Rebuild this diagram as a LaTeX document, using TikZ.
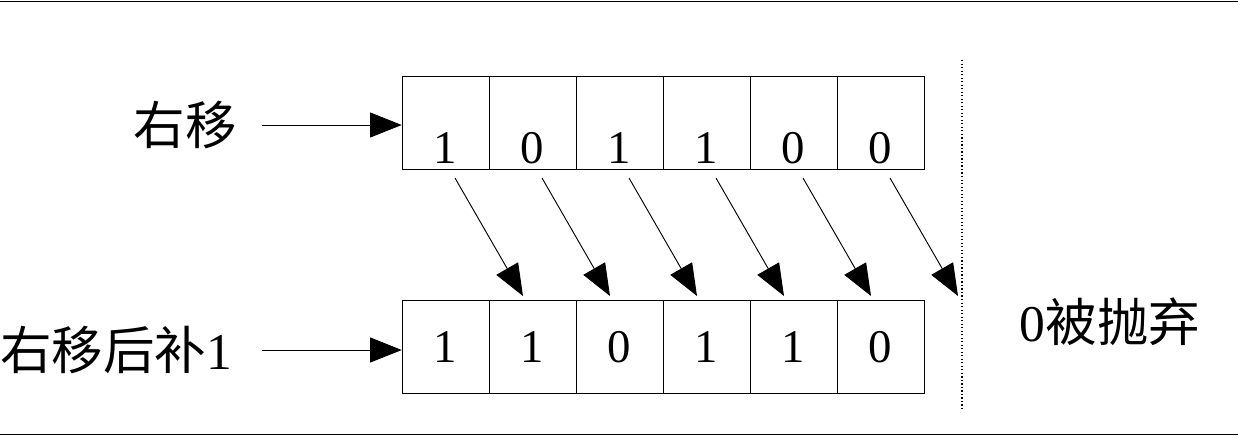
\documentclass[tikz,border=0pt]{standalone}
\usepackage{fontspec}
\setmainfont{Liberation Serif}
\newfontfamily\cjk{Noto Sans CJK SC}
\usetikzlibrary{arrows.meta,positioning}
\tikzset{
  cell/.style={draw, minimum width=2.61cm, minimum height=2.79cm, inner sep=0pt},
  digit/.style={font=\fontsize{40}{40}\selectfont},
  lbl/.style={font=\cjk\fontsize{44}{44}\selectfont, inner sep=0pt},
  bigarrow/.style={-{Triangle[length=0.95cm,width=0.75cm]}, line width=0.8pt}
}
\newcommand{\rmdigit}[1]{{\rmfamily\fontsize{44}{44}\selectfont #1}}
\begin{document}
\begin{tikzpicture}[x=0.03cm,y=-0.03cm]
    \useasboundingbox (0,0) rectangle (1238,437);
    % Randlinien
    \draw[line width=0.8pt] (0,1) -- (1238,1);
    \draw[line width=0.8pt] (0,434) -- (1238,434);

    % Zellen oben und unten
    \foreach \i/\a/\b in {1/1/1,2/0/1,3/1/0,4/1/1,5/0/1,6/0/0} {
        \node[cell] (t\i) at ({402+87*(\i-0.5)},123) {};
        \node[cell] (b\i) at ({402+87*(\i-0.5)},347) {};
        \node[digit] at ([yshift=-0.75cm]t\i.center) {\a};
        \node[digit] at (b\i.center) {\b};
    }

    % Beschriftung links
    \node[lbl] (rs) at (185,125) {右移};
    \node[lbl, anchor=west] (rsf) at (0,350) {右移后补\rmdigit{1}};
    \draw[bigarrow] (262,125) -- (t1.west |- 0,125);
    \draw[bigarrow] (262,350) -- (b1.west |- 0,350);

    % Verschiebungspfeile
    \foreach \i in {1,...,6} {
        \coordinate (s\i) at ({455+87*(\i-1)},178);
        \coordinate (e\i) at ({523+87*(\i-1)},296);
        \draw[bigarrow] (s\i) -- (e\i);
    }

    % Trennlinie und Text
    \draw[dotted, line width=1pt] (962,60) -- (962,410);
    \node[lbl] (drop) at (1110,322) {\rmdigit{0}被抛弃};
\end{tikzpicture}
\end{document}
